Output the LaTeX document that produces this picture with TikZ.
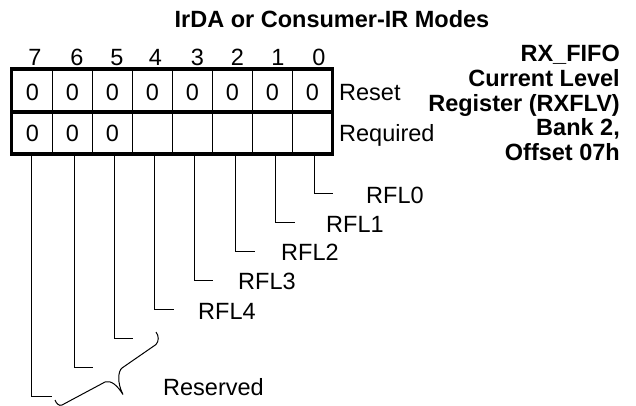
\documentclass[tikz,border=0pt]{standalone}
\usepackage{fontspec}
\setmainfont{Liberation Sans}
\begin{document}
\begin{tikzpicture}[x=1pt,y=-1pt,
  txt/.style={inner sep=0pt,font=\fontsize{23.5}{24.6}\selectfont},
  btxt/.style={inner sep=0pt,font=\fontsize{23.5}{24.6}\selectfont\bfseries},
  cell/.style={draw,line width=1pt,minimum width=40pt,minimum height=42pt,inner sep=0pt},
  thickborder/.style={line width=3.5pt},
  leader/.style={line width=1pt}]
\useasboundingbox (0,0) rectangle (636,405);

% title
\node[btxt,anchor=base] (title) at (332,27) {IrDA or Consumer-IR Modes};

% right block
\node[btxt,anchor=base east] (t1) at (620,61.7) {RX\_FIFO};
\node[btxt,anchor=base east] (t2) at (620,86.5) {Current Level};
\node[btxt,anchor=base east] (t3) at (620,111.2) {Register (RXFLV)};
\node[btxt,anchor=base east] (t4) at (620,135.6) {Bank 2,};
\node[btxt,anchor=base east] (t5) at (620,160.2) {Offset 07h};

% cells
\foreach \b in {0,...,7} {
  \pgfmathsetmacro\cx{312-40*\b}
  \node[cell] (a\b) at (\cx,90.5) {};
  \node[cell] (b\b) at (\cx,132.5) {};
  \node[txt,anchor=base] (ra\b) at (\cx+0.5,100.2) {0};
}
\foreach \b in {5,6,7} {
  \pgfmathsetmacro\cx{312-40*\b}
  \node[txt,anchor=base] (rb\b) at (\cx+0.5,141.7) {0};
}
\draw[thickborder] (a7.north west) rectangle (b0.south east);
\draw[thickborder] (a7.south west) -- (a0.south east);

% bit numbers
\foreach \b/\x in {7/35,6/77,5/117,4/155.5,3/197.5,2/237.5,1/278,0/319}
  \node[txt,anchor=base] (n\b) at (\x,65) {\b};

% Reset / Required
\node[txt,anchor=base west] (reset) at (339,100.7) {Reset};
\node[txt,anchor=base west] (req) at (339,141.7) {Required};

% leaders with labels
\foreach \b/\x/\y/\e/\lx in {0/314/193.5/333/366, 1/275.3/222.5/295/326, 2/235.7/251/255/281, 3/194/280/213/238, 4/154/309.3/173.5/198} {
  \coordinate (s\b) at (\x,153.5);
  \coordinate (e\b) at (\e,\y);
  \node[txt,anchor=west] (l\b) at (\lx,\y+1.7) {RFL\b};
  \draw[leader] (s\b) |- (e\b);
}
\foreach \b/\x/\y/\e in {5/114.3/338/133.3, 6/74/367/93.3, 7/31.7/396/51.7} {
  \coordinate (s\b) at (\x,153.5);
  \coordinate (e\b) at (\e,\y);
  \draw[leader] (s\b) |- (e\b);
}

% brace and Reserved
\draw[leader] (156,332) .. controls (159,336) and (159,341) .. (156,344.5)
  -- (122,368) .. controls (118,371) and (117,383) .. (123,394.5)
  .. controls (117,385) and (111,380) .. (105,382)
  -- (62,405) .. controls (59,406.5) and (56,403) .. (55,400);
\node[txt,anchor=base west] (res) at (163,395) {Reserved};
\end{tikzpicture}
\end{document}
